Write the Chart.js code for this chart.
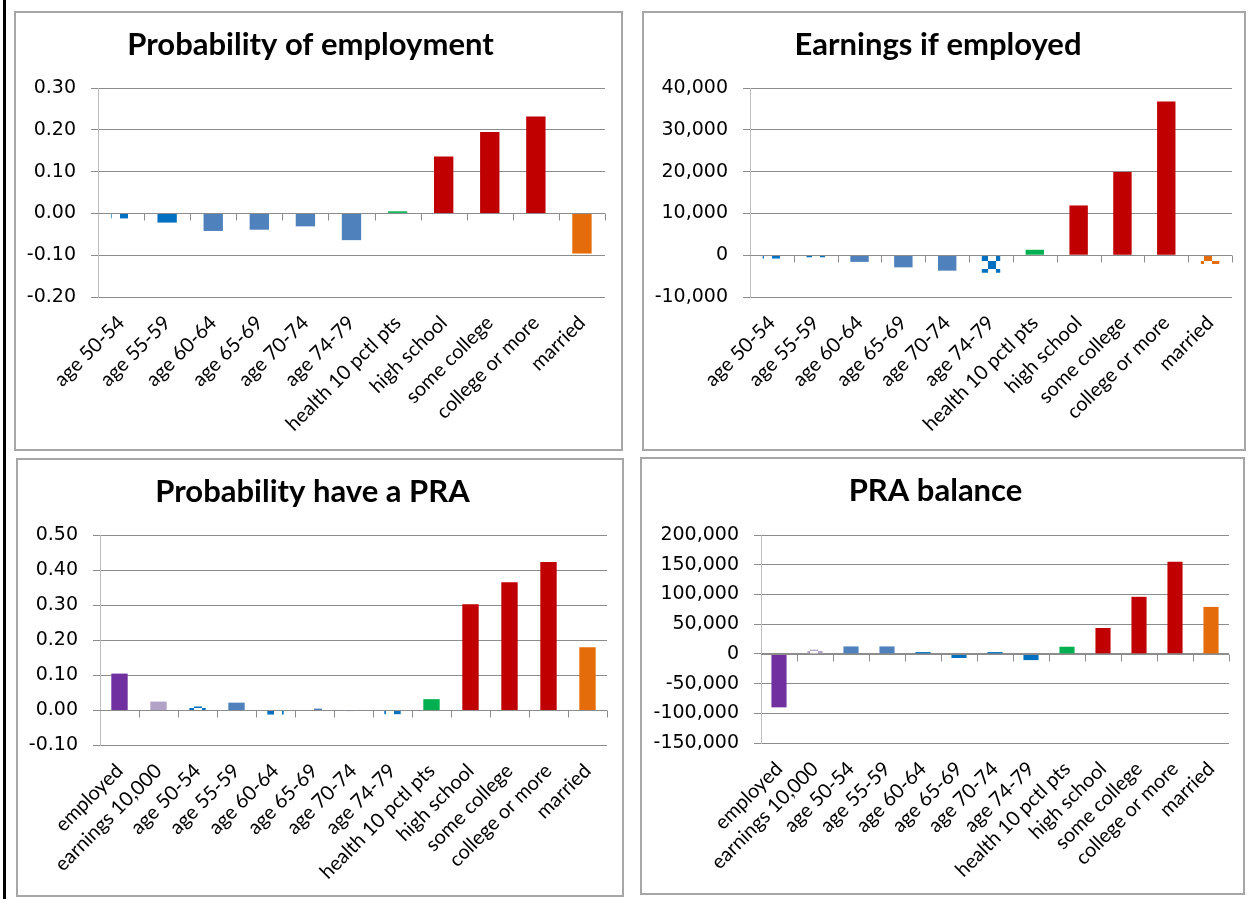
<!DOCTYPE html>
<html>
<head>
<meta charset="utf-8">
<script src="https://cdn.jsdelivr.net/npm/chart.js@4.4.1/dist/chart.umd.min.js"></script>
<style>
  body { margin: 0; width: 1249px; height: 899px; background: #fff; position: relative; overflow: hidden; }
  .edge { position: absolute; left: 3px; top: 0; width: 3px; height: 899px; background: #000; }
  .panel { position: absolute; border: 2px solid #a6a6a6; box-sizing: border-box; background: #fff; }
  .panel canvas { display: block; }
</style>
</head>
<body>
<div class="edge"></div>
<div class="panel" style="left:14px;top:11px;width:609px;height:440px"><canvas id="c1" width="605" height="436"></canvas></div>
<div class="panel" style="left:642px;top:11px;width:604px;height:440px"><canvas id="c2" width="600" height="436"></canvas></div>
<div class="panel" style="left:16px;top:458px;width:608px;height:439px"><canvas id="c3" width="604" height="435"></canvas></div>
<div class="panel" style="left:640px;top:457px;width:605px;height:438px"><canvas id="c4" width="601" height="434"></canvas></div>

<script>
// categories
const topLabels = ["age 50-54", "age 55-59", "age 60-64", "age 65-69", "age 70-74", "age 74-79",
  "health 10 pctl pts", "high school", "some college", "college or more", "married"];
const bottomLabels = ["employed", "earnings 10,000", "age 50-54", "age 55-59", "age 60-64", "age 65-69",
  "age 70-74", "age 74-79", "health 10 pctl pts", "high school", "some college", "college or more", "married"];

// values
const employProb = [-0.012, -0.022, -0.042, -0.039, -0.031, -0.064, 0.005, 0.136, 0.195, 0.232, -0.096];
const earnings = [-800, -500, -1600, -2900, -3700, -4200, 1300, 11900, 19900, 36800, -2100];
const praProb = [0.104, 0.024, 0.010, 0.021, -0.013, 0.004, -0.003, -0.012, 0.031, 0.302, 0.365, 0.423, 0.179];
const praBalance = [-90000, 7000, 12500, 12500, 3000, -7000, 3000, -10500, 12000, 43500, 96000, 155000, 79000];

// axis ranges
const probTicks = { min: -0.2, max: 0.3, step: 0.1 };
const earnTicks = { min: -10000, max: 40000, step: 10000 };
const praTicks = { min: -0.1, max: 0.5, step: 0.1 };
const balTicks = { min: -150000, max: 200000, step: 50000 };

const BLUE = "#4F81BD", DBLUE = "#0070C0", RED = "#C00000", GREEN = "#00B050",
  ORANGE = "#E46C0A", PURPLE = "#7030A0", LPURPLE = "#B3A2C7";

// bar colours and which bars use the checker fill
const colors1 = [DBLUE, DBLUE, BLUE, BLUE, BLUE, BLUE, GREEN, RED, RED, RED, ORANGE];
const hatch1 = [1, 0, 0, 0, 0, 0, 0, 0, 0, 0, 0];
const colors2 = [DBLUE, DBLUE, BLUE, BLUE, BLUE, DBLUE, GREEN, RED, RED, RED, ORANGE];
const hatch2 = [1, 1, 0, 0, 0, 1, 0, 0, 0, 0, 1];
const colors3 = [PURPLE, LPURPLE, DBLUE, BLUE, DBLUE, BLUE, DBLUE, DBLUE, GREEN, RED, RED, RED, ORANGE];
const hatch3 = [0, 0, 1, 0, 1, 1, 1, 1, 0, 0, 0, 0, 0];
const colors4 = [PURPLE, LPURPLE, BLUE, BLUE, DBLUE, DBLUE, DBLUE, DBLUE, GREEN, RED, RED, RED, ORANGE];
const hatch4 = [0, 1, 0, 0, 0, 0, 0, 0, 0, 0, 0, 0, 0];

function checker(color) {
  const c = document.createElement("canvas");
  c.width = 16; c.height = 16;
  const g = c.getContext("2d");
  g.fillStyle = "#fff";
  g.fillRect(0, 0, 16, 16);
  g.fillStyle = color;
  g.fillRect(0, 0, 8, 8);
  g.fillRect(8, 8, 8, 8);
  return g.createPattern(c, "repeat");
}

// small tick marks under the zero line, between categories
const zeroTicks = {
  id: "zeroTicks",
  afterDatasetsDraw(chart) {
    const x = chart.scales.x, y = chart.scales.y;
    const n = chart.data.labels.length;
    const y0 = Math.round(y.getPixelForValue(0)) + 0.5;
    const ctx = chart.ctx;
    ctx.save();
    ctx.strokeStyle = "#8c8c8c";
    ctx.lineWidth = 1;
    ctx.beginPath();
    ctx.moveTo(x.left, y0);
    ctx.lineTo(x.right, y0);
    for (let i = 1; i <= n; i++) {
      const px = Math.round(x.left + i * x.width / n) + 0.5;
      ctx.moveTo(px, y0);
      ctx.lineTo(px, y0 + 7);
    }
    ctx.stroke();
    ctx.restore();
  }
};

const fmtProb = v => (Math.abs(v) < 1e-9 ? 0 : Number(v)).toFixed(2);
const fmtMoney = v => Math.round(v).toLocaleString("en-US");

function build(id, o) {
  const ctx = document.getElementById(id).getContext("2d");
  return new Chart(ctx, {
    type: "bar",
    data: {
      labels: o.labels,
      datasets: [{
        data: o.values,
        backgroundColor: o.colors.map((c, i) => o.hatch[i] ? checker(c) : c),
        borderWidth: 0,
        barPercentage: 0.42,
        categoryPercentage: 1
      }]
    },
    options: {
      responsive: false,
      animation: false,
      layout: { padding: { left: 0, right: o.padR, top: 0, bottom: 0 } },
      plugins: {
        legend: { display: false },
        tooltip: { enabled: false },
        title: {
          display: true,
          text: o.title,
          color: "#000",
          font: { family: "Lato", size: 31, weight: "bold" },
          padding: { top: 13, bottom: o.titleGap }
        }
      },
      scales: {
        x: {
          grid: { display: false },
          border: { display: false },
          ticks: {
            autoSkip: false,
            minRotation: 45,
            maxRotation: 45,
            color: "#000",
            padding: 6,
            font: { family: "Lato", size: 20 }
          },
          afterFit: s => { s.height = o.xH; }
        },
        y: {
          min: o.ticks.min,
          max: o.ticks.max,
          grid: { color: "#8c8c8c", tickLength: 7 },
          border: { color: "#bdbdbd" },
          ticks: {
            stepSize: o.ticks.step,
            color: "#000",
            padding: 15,
            font: { family: "DejaVu Sans", size: 19 },
            callback: o.fmt
          },
          afterFit: s => { s.width = o.yW; }
        }
      }
    },
    plugins: [zeroTicks]
  });
}

build("c1", { title: "Probability of employment", labels: topLabels, values: employProb,
  colors: colors1, hatch: hatch1, ticks: probTicks, fmt: fmtProb, yW: 82, padR: 16, xH: 152, titleGap: 24.8 });
build("c2", { title: "Earnings if employed", labels: topLabels, values: earnings,
  colors: colors2, hatch: hatch2, ticks: earnTicks, fmt: fmtMoney, yW: 106, padR: 12, xH: 152, titleGap: 24.8 });
build("c3", { title: "Probability have a PRA", labels: bottomLabels, values: praProb,
  colors: colors3, hatch: hatch3, ticks: praTicks, fmt: fmtProb, yW: 82, padR: 15, xH: 150, titleGap: 24.8 });
build("c4", { title: "PRA balance", labels: bottomLabels, values: praBalance,
  colors: colors4, hatch: hatch4, ticks: balTicks, fmt: fmtMoney, yW: 119, padR: 14, xH: 150, titleGap: 25.8 });
</script>
</body>
</html>
